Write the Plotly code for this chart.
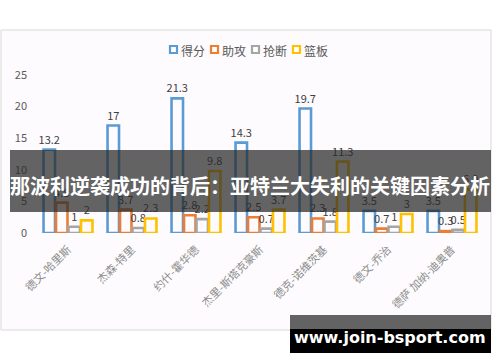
import plotly.graph_objects as go

players = ["德文-哈里斯", "杰森-特里", "约什-霍华德", "杰里-斯塔克豪斯",
           "德克-诺维茨基", "德文-乔治", "德萨 加纳-迪奥普"]
points = [13.2, 17, 21.3, 14.3, 19.7, 3.5, 3.5]
assists = [4.8, 3.7, 2.8, 2.5, 2.3, 0.7, 0.3]
steals = [1, 0.8, 2.2, 0.7, 1.8, 1, 0.5]
rebounds = [2, 2.3, 9.8, 3.7, 11.3, 3, 6.9]
series_names = ["得分", "助攻", "抢断", "篮板"]
y_ticks = [0, 5, 10, 15, 20, 25]

colors = ["#5B9BD5", "#ED7D31", "#A5A5A5", "#FFC000"]
BG = "#fdfbfd"
FONT = "Noto Sans CJK SC"

W, H = 500, 362
L, R, T, B = 36, 484, 75, 233


def px(x):
    return (x - L) / (R - L)


def py(y):
    return (B - y) / (B - T)


fig = go.Figure()
for name, vals, c in zip(series_names, [points, assists, steals, rebounds], colors):
    fig.add_trace(go.Bar(
        x=players, y=vals, name=name,
        marker=dict(color=BG, line=dict(color=c, width=2.6)),
        text=[str(v) for v in vals], textposition="outside",
        constraintext="none",
        textfont=dict(size=11, color="#404040", family=FONT),
        cliponaxis=False, showlegend=False,
    ))

shapes = [
    # chart frame
    dict(type="rect", xref="paper", yref="paper", layer="below",
         x0=px(1), x1=px(491), y0=py(30), y1=py(330),
         fillcolor=BG, line=dict(color="#d9d9d9", width=1)),
]
annotations = []

# legend drawn by hand (compact, like the reference)
leg_x0 = 169
leg_step = 41
for i, (name, c) in enumerate(zip(series_names, colors)):
    x = leg_x0 + i * leg_step
    shapes.append(dict(type="rect", xref="paper", yref="paper", layer="above",
                       x0=px(x + 1), x1=px(x + 8), y0=py(46), y1=py(53),
                       fillcolor="white", line=dict(color=c, width=2.2)))
    annotations.append(dict(xref="paper", yref="paper", x=px(x + 10), y=py(50),
                            text=name, showarrow=False, xanchor="left", yanchor="middle",
                            font=dict(size=12, color="#595959", family=FONT)))

shapes += [
    # banner
    dict(type="rect", xref="paper", yref="paper", layer="above",
         x0=px(10), x1=px(491), y0=py(150), y1=py(212),
         fillcolor="rgba(40,40,40,0.72)", line=dict(width=0)),
    # watermark
    dict(type="rect", xref="paper", yref="paper", layer="above",
         x0=px(290), x1=px(491), y0=py(315), y1=py(329),
         fillcolor="rgba(40,40,40,0.72)", line=dict(width=0)),
    dict(type="rect", xref="paper", yref="paper", layer="above",
         x0=px(290), x1=px(491), y0=py(329), y1=py(353),
         fillcolor="#000000", line=dict(width=0)),
]

annotations += [
    dict(xref="paper", yref="paper", x=px(250), y=py(185),
         text="<b>那波利逆袭成功的背后：亚特兰大失利的关键因素分析</b>",
         showarrow=False, font=dict(size=20, color="white", family=FONT),
         xanchor="center", yanchor="middle"),
    dict(xref="paper", yref="paper", x=px(390), y=py(337),
         text="<b>www.join-bsport.com</b>",
         showarrow=False, font=dict(size=16, color="white", family="DejaVu Sans"),
         xanchor="center", yanchor="middle"),
]

fig.update_layout(
    width=W, height=H,
    margin=dict(l=L, r=W - R, t=T, b=H - B, autoexpand=False),
    paper_bgcolor="white", plot_bgcolor="rgba(0,0,0,0)",
    barmode="group", bargap=0.22, bargroupgap=0.08,
    font=dict(family=FONT, color="#595959"),
    showlegend=False,
    shapes=shapes, annotations=annotations,
)
fig.update_yaxes(range=[0, 25], tickvals=y_ticks, showgrid=False, zeroline=False,
                 showline=False, tickfont=dict(size=11, color="#595959"), ticks="",
                 ticklabelstandoff=8, automargin=False)
fig.update_xaxes(tickangle=-45, showgrid=False, showline=False,
                 tickfont=dict(size=11, color="#8c8c8c"), ticks="",
                 ticklabelstandoff=7, automargin=False)

fig.write_html("out.html", config={"displayModeBar": False},
               post_script="document.body.style.margin='0';document.body.style.overflow='hidden';")
